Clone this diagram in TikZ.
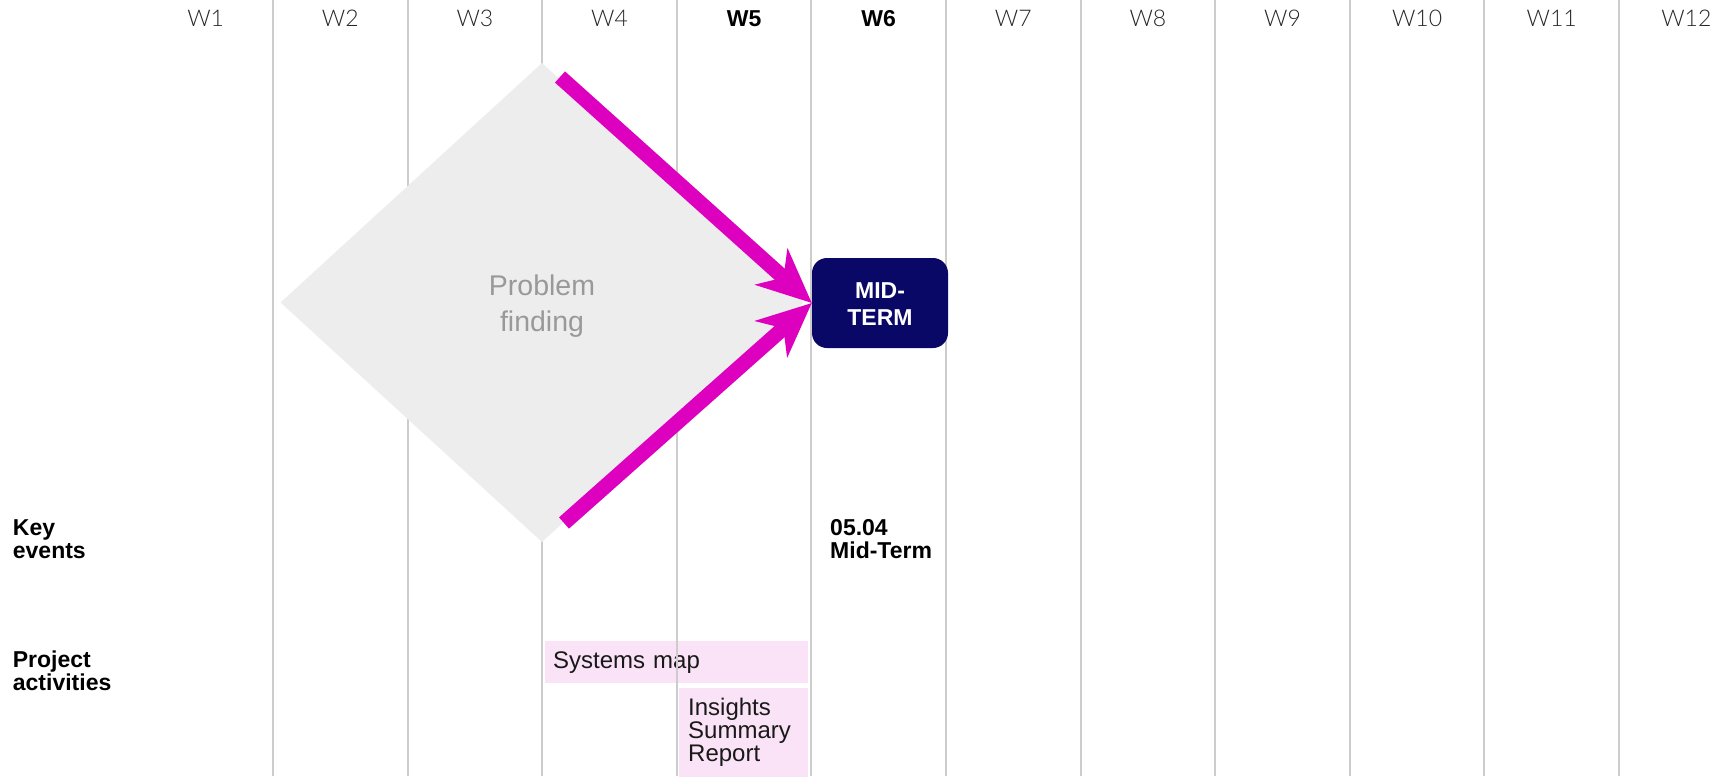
\documentclass[tikz,border=0pt]{standalone}
\usepackage{fontspec}
\setmainfont{Liberation Sans}
\IfFontExistsTF{Lato Light}{\newfontfamily\weekfont{Lato Light}}{\newfontfamily\weekfont{Liberation Sans}}
\usepackage{xcolor}
\usepackage{tikz}
\usetikzlibrary{arrows.meta,positioning,shapes.geometric}
\definecolor{PlanMagenta}{HTML}{DE00BF}
\definecolor{PlanNavy}{HTML}{0A0866}
\definecolor{PlanGrey}{HTML}{EDEDED}
\definecolor{PlanRule}{HTML}{CCCCCC}
\definecolor{PlanPink}{HTML}{FAE3F6}
\definecolor{PlanText}{HTML}{999999}
\tikzset{
  weekrule/.style={draw=PlanRule,line width=2pt},
  weeklabel/.style={font=\weekfont\fontsize{23}{23}\selectfont,anchor=base,text=black!85,inner sep=0pt},
  weekbold/.style={weeklabel,font=\bfseries\fontsize{23}{23}\selectfont,text=black},
  rowlabel/.style={font=\bfseries\fontsize{23}{23}\selectfont,align=left,anchor=north west,inner sep=0pt},
  phasebox/.style={diamond,fill=PlanGrey,inner sep=0pt,outer sep=0pt,minimum width=523pt,minimum height=479pt,align=center,text=PlanText,font=\fontsize{28.5}{36}\selectfont,text height=57pt,text depth=0pt},
  eventbox/.style={fill=PlanNavy,rounded corners=15pt,minimum width=136pt,minimum height=90pt,inner sep=0pt,align=center,text=white,font=\bfseries\fontsize{23}{27}\selectfont,text height=45.4pt,text depth=0pt},
  actbox/.style={fill=PlanPink,align=left,inner ysep=0pt,font=\fontsize{24}{23}\selectfont,text=black!90},
  bigarrow/.style={-{Stealth[length=54pt,width=48pt,inset=16pt]},line width=15pt,draw=PlanMagenta}
}

\begin{document}
\begin{tikzpicture}[x=1pt,y=-1pt]
\useasboundingbox (0,0) rectangle (1731,776);
% activities sit under the week rules
\node[actbox,text width=247pt,inner xsep=8pt,minimum height=42pt,anchor=north west] (sys) at (545,641) {Systems map};
\node[actbox,text width=111pt,inner xsep=9pt,minimum height=89pt,below=4pt of sys.south east,anchor=north east] (ins) {Insights\\Summary\\Report};
% week grid
\foreach \i in {1,...,11}
  \draw[weekrule] ({273+(\i-1)*134.6},0) -- ({273+(\i-1)*134.6},776);
\foreach \i/\wk in {1/weeklabel,2/weeklabel,3/weeklabel,4/weeklabel,5/weekbold,6/weekbold,
                    7/weeklabel,8/weeklabel,9/weeklabel,10/weeklabel,11/weeklabel,12/weeklabel}
  \node[\wk] (w\i) at ({205.7+(\i-1)*134.6},26.7) {W\i};
% phase and milestone
\node[phasebox] (pf) at (542,302.5) {Problem\\finding};
\node[eventbox] (mid) at (880,303) {MID-\\TERM};
\coordinate (upin) at ([xshift=18pt,yshift=-14pt]pf.north);
\coordinate (lowin) at ([xshift=22pt,yshift=19pt]pf.south);
\draw[bigarrow] (upin) -- (mid.west);
\draw[bigarrow] (lowin) -- (mid.west);
% rows
\node[rowlabel] (key) at (12.7,519) {Key\\events};
\node[rowlabel] (proj) at (12.7,650.7) {Project\\activities};
\node[rowlabel] (date) at (830,519.3) {05.04\\Mid-Term};
\end{tikzpicture}
\end{document}
